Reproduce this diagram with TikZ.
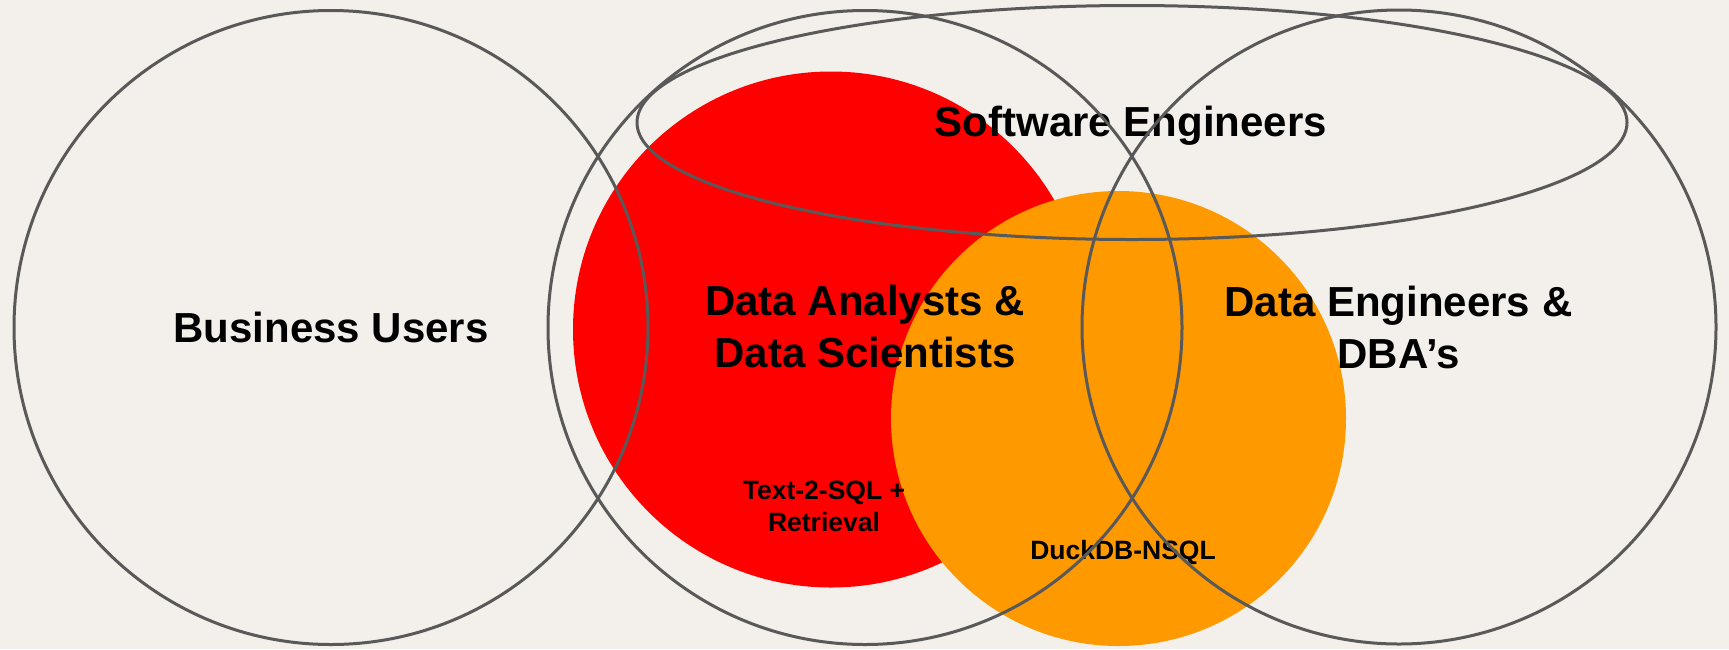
\documentclass[tikz,border=0pt]{standalone}
\usepackage{fontspec}
\setmainfont{Liberation Sans}
\definecolor{bgc}{HTML}{F3EFEB}
\definecolor{linec}{HTML}{595959}
\definecolor{redc}{HTML}{FF0000}
\definecolor{orangec}{HTML}{FF9900}
\begin{document}
\begin{tikzpicture}[x=1pt,y=-1pt,
  outline/.style={draw=linec,line width=3pt},
  biglabel/.style={font=\fontsize{42}{52}\selectfont\bfseries,align=center,inner sep=0pt,text=black},
  smalllabel/.style={font=\fontsize{26.5}{32}\selectfont\bfseries,align=center,inner sep=0pt,text=black}]
\useasboundingbox (0,0) rectangle (1729,649);
\fill[bgc] (0,0) rectangle (1729,649);
% filled circles
\fill[redc] (831,329.5) circle[radius=258];
\fill[orangec] (1118.5,418.5) circle[radius=227.5];
% labels
\node[biglabel,anchor=base] (bu) at (331,342.7) {Business Users};
\node[biglabel,anchor=base] (se) at (1131,136.6) {Software Engineers};
\node[biglabel] (da) at (865,326) {Data Analysts \&\\Data Scientists};
\node[biglabel] (de) at (1398.5,327) {Data Engineers \&\\DBA’s};
\node[smalllabel] (t2s) at (824,506) {Text-2-SQL +\\Retrieval};
\node[smalllabel,anchor=base] (nsql) at (1123,559) {DuckDB-NSQL};
% outlines
\draw[outline] (331,327.5) circle[radius=317];
\draw[outline] (865,327.5) circle[radius=317];
\draw[outline] (1399,327) circle[radius=317];
\draw[outline] (1132,122.5) ellipse[x radius=495,y radius=117];
\end{tikzpicture}
\end{document}
